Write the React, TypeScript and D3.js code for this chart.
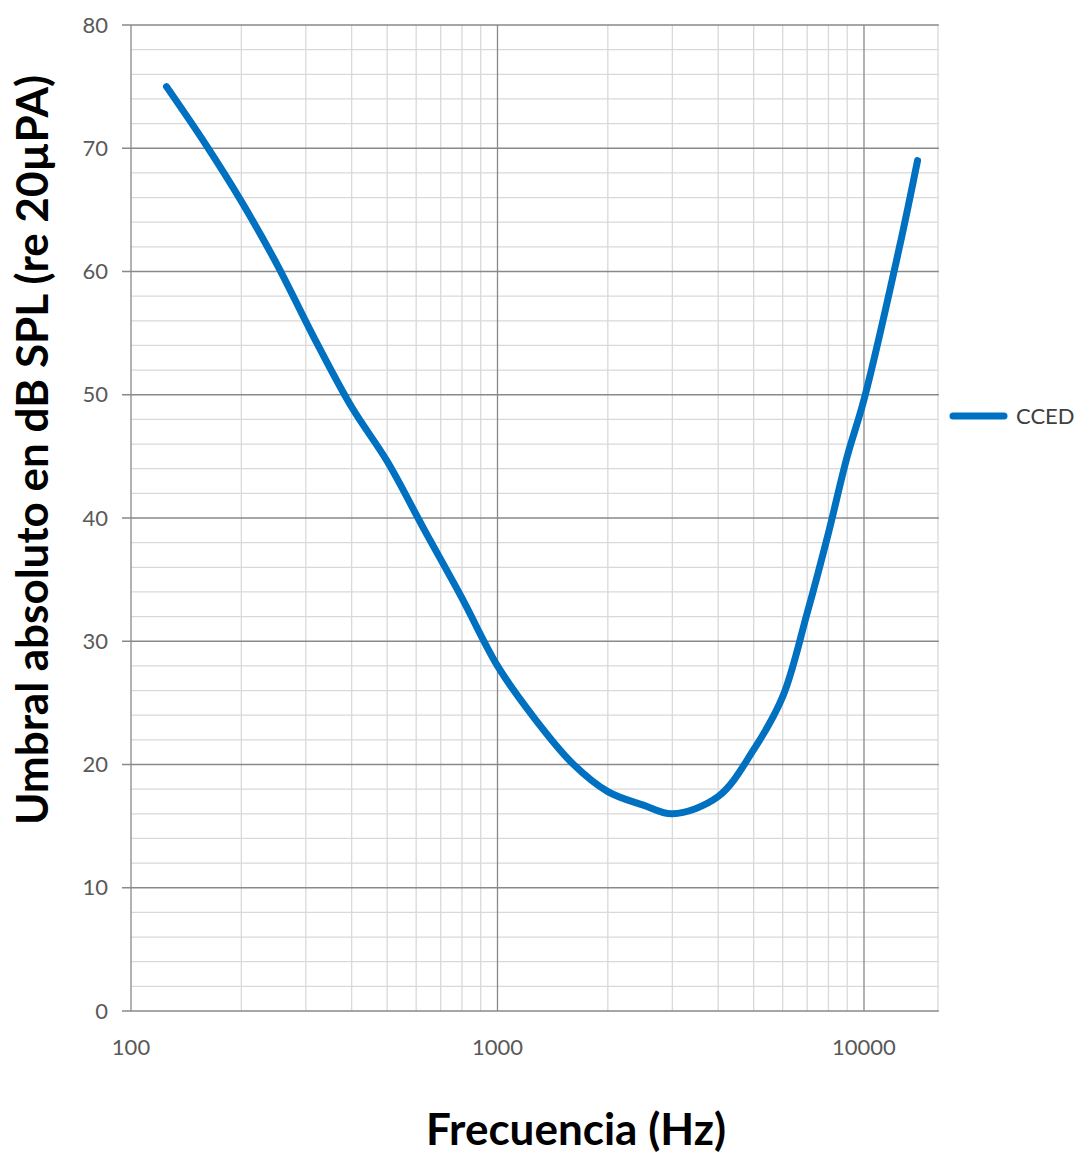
import React, { useRef, useEffect } from 'react'
import * as d3 from 'd3'

const frequencies = [125, 160, 200, 250, 315, 400, 500, 630, 800, 1000, 1250, 1600, 2000, 2500, 3000, 4000, 5000, 6000, 7000, 8000, 9000, 10000, 12500, 14000]
const thresholds = [75, 70.3, 65.7, 60.6, 54.7, 49, 44.6, 39.1, 33.5, 28, 23.9, 20.1, 17.8, 16.7, 16, 17.4, 21.2, 25.5, 32.3, 38.8, 45, 49.6, 62, 69]
const seriesName = 'CCED'
const xTicks = [100, 1000, 10000]
const yTicks = [0, 10, 20, 30, 40, 50, 60, 70, 80]
const xTitle = 'Frecuencia (Hz)'
const yTitle = 'Umbral absoluto en dB SPL (re 20µPA)'

const App = () => {
    const ref = useRef<SVGSVGElement>(null)
    useEffect(() => {
        const w = 1076
        const h = 1153
        const left = 131, right = 938.8, top = 25, bottom = 1011
        const svg = d3.select(ref.current)
        svg.selectAll('*').remove()
        svg.attr('width', w).attr('height', h).style('background', 'white')

        const x = d3.scaleLog().domain([100, 16000]).range([left, right])
        const y = d3.scaleLinear().domain([0, 80]).range([bottom, top])

        const font = 'Lato, "Open Sans", sans-serif'
        const minorColor = '#d9d9d9'
        const majorColor = '#898989'

        // minor grid
        const minorY = d3.range(0, 81, 2).filter(v => v % 10 !== 0)
        svg.append('g').selectAll('line').data(minorY).join('line')
            .attr('x1', left).attr('x2', right)
            .attr('y1', d => y(d)).attr('y2', d => y(d))
            .attr('stroke', minorColor).attr('stroke-width', 1.3)
        const minorX = [200, 300, 400, 500, 600, 700, 800, 900, 2000, 3000, 4000, 5000, 6000, 7000, 8000, 9000]
        svg.append('g').selectAll('line').data(minorX).join('line')
            .attr('x1', d => x(d)).attr('x2', d => x(d))
            .attr('y1', top).attr('y2', bottom)
            .attr('stroke', minorColor).attr('stroke-width', 1.3)
        // right border of plot
        svg.append('line')
            .attr('x1', right - 0.8).attr('x2', right - 0.8).attr('y1', top).attr('y2', bottom)
            .attr('stroke', minorColor).attr('stroke-width', 1.3)

        // major grid + ticks
        svg.append('g').selectAll('line').data(yTicks).join('line')
            .attr('x1', left - 9).attr('x2', right)
            .attr('y1', d => y(d)).attr('y2', d => y(d))
            .attr('stroke', majorColor).attr('stroke-width', 1.3)
        svg.append('g').selectAll('line').data(xTicks).join('line')
            .attr('x1', d => x(d)).attr('x2', d => x(d))
            .attr('y1', top).attr('y2', bottom)
            .attr('stroke', majorColor).attr('stroke-width', 1.3)

        // tick labels
        svg.append('g').selectAll('text').data(yTicks).join('text')
            .attr('x', 108).attr('y', d => y(d))
            .attr('dy', '0.35em')
            .attr('text-anchor', 'end')
            .style('font-family', font).style('font-size', '22px').style('fill', '#595959')
            .text(d => d)
        svg.append('g').selectAll('text').data(xTicks).join('text')
            .attr('x', d => x(d)).attr('y', 1055)
            .attr('text-anchor', 'middle')
            .style('font-family', font).style('font-size', '22px').style('fill', '#595959')
            .text(d => d)

        // axis titles
        svg.append('text')
            .attr('x', 576).attr('y', 1145)
            .attr('text-anchor', 'middle')
            .style('font-family', font).style('font-size', '44px').style('font-weight', 'bold').style('fill', '#000')
            .text(xTitle)
        svg.append('text')
            .attr('transform', 'translate(48, 450) rotate(-90)')
            .attr('text-anchor', 'middle')
            .style('font-family', font).style('font-size', '44px').style('font-weight', 'bold').style('fill', '#000')
            .text(yTitle)

        // series
        const line = d3.line<number>()
            .x((d, i) => x(frequencies[i]))
            .y(d => y(d))
            .curve(d3.curveCatmullRom.alpha(0.5))
        svg.append('path')
            .datum(thresholds)
            .attr('d', line)
            .attr('fill', 'none')
            .attr('stroke', '#0070C0')
            .attr('stroke-width', 7)
            .attr('stroke-linecap', 'round')
            .attr('stroke-linejoin', 'round')

        // legend
        svg.append('line')
            .attr('x1', 953).attr('x2', 1004).attr('y1', 416).attr('y2', 416)
            .attr('stroke', '#0070C0').attr('stroke-width', 7).attr('stroke-linecap', 'round')
        svg.append('text')
            .attr('x', 1016).attr('y', 424)
            .style('font-family', font).style('font-size', '22px').style('fill', '#404040')
            .text(seriesName)
    }, [])
    return (
        <div style={{ position: 'absolute', left: 0, top: 0 }}>
            <svg ref={ref}></svg>
        </div>
    )
}

export default App
